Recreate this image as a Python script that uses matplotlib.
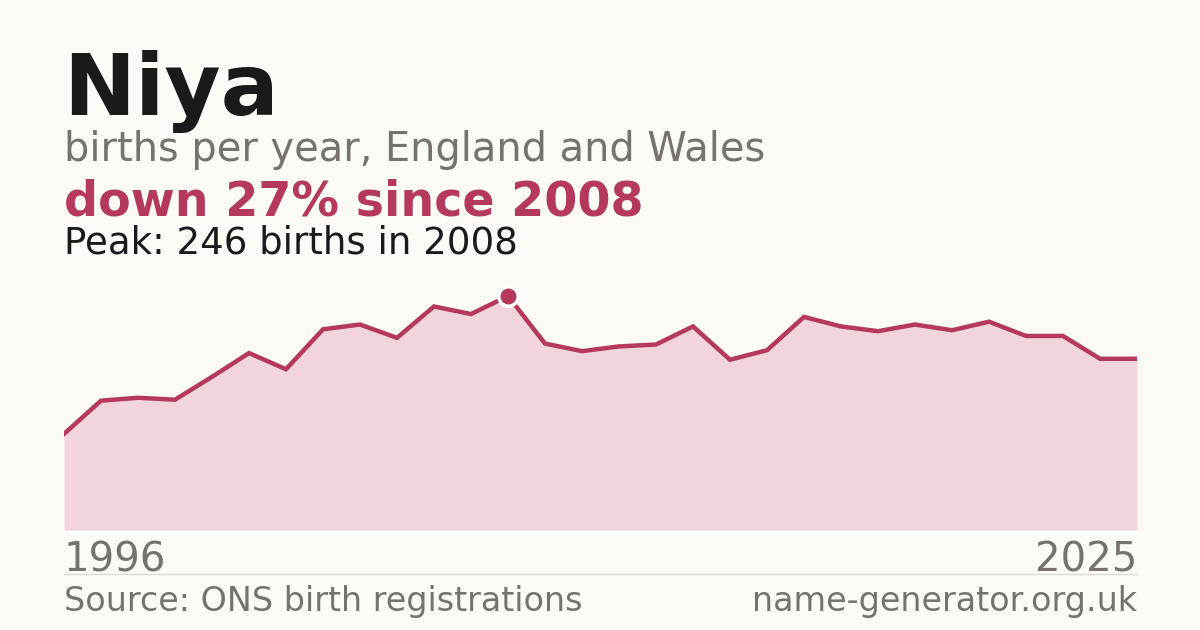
import numpy as np
import matplotlib.pyplot as plt

years = np.arange(1996, 2026)
births = [101, 136, 139, 137, 161, 186, 169, 211, 216, 202,
          235, 227, 246, 196, 188, 193, 195, 214, 179, 189,
          224, 214, 209, 216, 210, 219, 204, 204, 180, 180]

name = "Niya"
subtitle = "births per year, England and Wales"
headline = "down 27% since 2008"
peak_note = "Peak: 246 births in 2008"
source = "Source: ONS birth registrations"
site = "name-generator.org.uk"

bg = "#fbfaf5"
accent = "#b5395a"
fill_col = "#f2d5da"
grey = "#77726b"
dark = "#1a1a1a"

W, H = 1200, 630
fig = plt.figure(figsize=(12, 6.3), dpi=100, facecolor=bg)

# plot area in pixels: x 64..1137, baseline at 530
ax = fig.add_axes([64 / W, (H - 530) / H, 1073 / W, 250 / H])
ax.set_facecolor(bg)
ax.fill_between(years, births, 0, color=fill_col, lw=0)
ax.plot(years, births, color=accent, lw=3.2, solid_joinstyle="miter")

i_peak = int(np.argmax(births))
ax.plot(years[i_peak], births[i_peak], "o", ms=14, color=accent,
        mec="white", mew=2.5, zorder=5)

ax.set_xlim(years[0], years[-1])
ax.set_ylim(0, max(births) * 250 / 234)
ax.axis("off")

def px(x, y):
    return x / W, 1 - y / H

fig.text(*px(63, 115), name, fontsize=62, fontweight="bold", color=dark)
fig.text(*px(64, 161), subtitle, fontsize=28.7, color=grey)
fig.text(*px(64, 215), headline, fontsize=34.3, fontweight="bold", color=accent)
fig.text(*px(64, 254), peak_note, fontsize=26.7, color=dark)

fig.text(*px(64, 571), str(years[0]), fontsize=29, color=grey)
fig.text(*px(1137, 571), str(years[-1]), fontsize=29, color=grey, ha="right")

fig.add_artist(plt.Line2D([64 / W, 1137 / W], [1 - 574 / H] * 2,
                          color="#dedbd3", lw=1))

fig.text(*px(64, 611), source, fontsize=24, color=grey)
fig.text(*px(1137, 611), site, fontsize=24, color=grey, ha="right")

fig.savefig("out.png", dpi=100, facecolor=bg)
